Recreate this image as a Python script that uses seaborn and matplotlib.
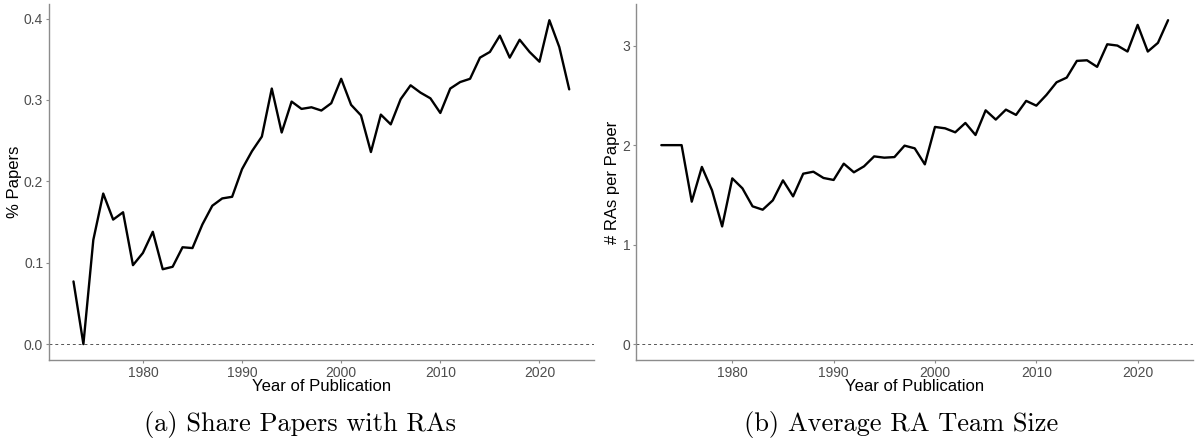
import matplotlib
matplotlib.use("Agg")
import matplotlib.pyplot as plt
import seaborn as sns
import pandas as pd
import numpy as np

years = list(range(1973, 2024))

share_papers = [0.077, 0.000, 0.128, 0.185, 0.153, 0.162, 0.097, 0.112, 0.138, 0.092,
                0.095, 0.119, 0.118, 0.147, 0.170, 0.179, 0.181, 0.215, 0.237, 0.255,
                0.314, 0.260, 0.298, 0.289, 0.291, 0.287, 0.296, 0.326, 0.294, 0.281,
                0.236, 0.282, 0.270, 0.301, 0.318, 0.309, 0.302, 0.284, 0.314, 0.322,
                0.326, 0.352, 0.359, 0.379, 0.352, 0.374, 0.359, 0.347, 0.398, 0.365,
                0.313]

team_size = [2.00, 2.00, 2.00, 1.432, 1.781, 1.546, 1.183, 1.666, 1.566, 1.385,
             1.351, 1.445, 1.646, 1.485, 1.713, 1.733, 1.670, 1.650, 1.814, 1.727,
             1.787, 1.887, 1.874, 1.880, 1.995, 1.968, 1.807, 2.183, 2.169, 2.129,
             2.223, 2.102, 2.350, 2.257, 2.357, 2.304, 2.445, 2.397, 2.505, 2.632,
             2.679, 2.847, 2.853, 2.787, 3.014, 3.001, 2.941, 3.209, 2.941, 3.028,
             3.256]

left_yticks = [0.0, 0.1, 0.2, 0.3, 0.4]
left_yticklabels = ["0.0", "0.1", "0.2", "0.3", "0.4"]
right_yticks = [0, 1, 2, 3]
right_yticklabels = ["0", "1", "2", "3"]
xticks = [1980, 1990, 2000, 2010, 2020]
xlabel = "Year of Publication"
ylabels = ["% Papers", "# RAs per Paper"]
captions = ["(a) Share Papers with RAs", "(b) Average RA Team Size"]

df_a = pd.DataFrame({"year": years, "value": share_papers})
df_b = pd.DataFrame({"year": years, "value": team_size})

sns.set_style("white")
plt.rcParams["font.family"] = ["Liberation Sans", "DejaVu Sans"]

fig = plt.figure(figsize=(11.96, 4.41), dpi=100)
ax1 = fig.add_axes([48.7 / 1196, (441 - 360.3) / 441, (594 - 48.7) / 1196, (360.3 - 4) / 441])
ax2 = fig.add_axes([636 / 1196, (441 - 360.3) / 441, (1193.4 - 636) / 1196, (360.3 - 4) / 441])

spine_col = "#8c8c8c"
tick_col = "#4d4d4d"

for ax, df, yt, ytl, yl in [(ax1, df_a, left_yticks, left_yticklabels, ylabels[0]),
                            (ax2, df_b, right_yticks, right_yticklabels, ylabels[1])]:
    ax.axhline(0, color="#555555", linestyle=(0, (3, 3)), linewidth=0.7, zorder=1)
    sns.lineplot(data=df, x="year", y="value", ax=ax, color="black", linewidth=1.7, zorder=3)
    vmax = df["value"].max()
    rng = vmax - 0
    ax.set_ylim(0 - 0.05 * rng, vmax + 0.05 * rng)
    ax.set_xlim(1973 - 2.5, 2023 + 2.5)
    ax.set_yticks(yt)
    ax.set_yticklabels(ytl)
    ax.set_xticks(xticks)
    ax.set_xticklabels([str(x) for x in xticks])
    ax.set_xlabel(xlabel, fontsize=12, color="black", labelpad=-0.5)
    ax.set_ylabel(yl, fontsize=12, color="black", labelpad=1.5)
    ax.tick_params(axis="both", which="major", labelsize=10, labelcolor=tick_col,
                   color=spine_col, length=2.5, width=0.8, pad=1.5, direction="out",
                   bottom=True, left=True)
    for s in ["top", "right"]:
        ax.spines[s].set_visible(False)
    for s in ["left", "bottom"]:
        ax.spines[s].set_color(spine_col)
        ax.spines[s].set_linewidth(1.0)
    ax.grid(False)

fig.text(300 / 1196, (441 - 431) / 441, captions[0], family="cmr10", fontsize=19,
         ha="center", va="baseline", color="black")
fig.text(901 / 1196, (441 - 431) / 441, captions[1], family="cmr10", fontsize=19,
         ha="center", va="baseline", color="black")

fig.savefig("out.png", dpi=100)
